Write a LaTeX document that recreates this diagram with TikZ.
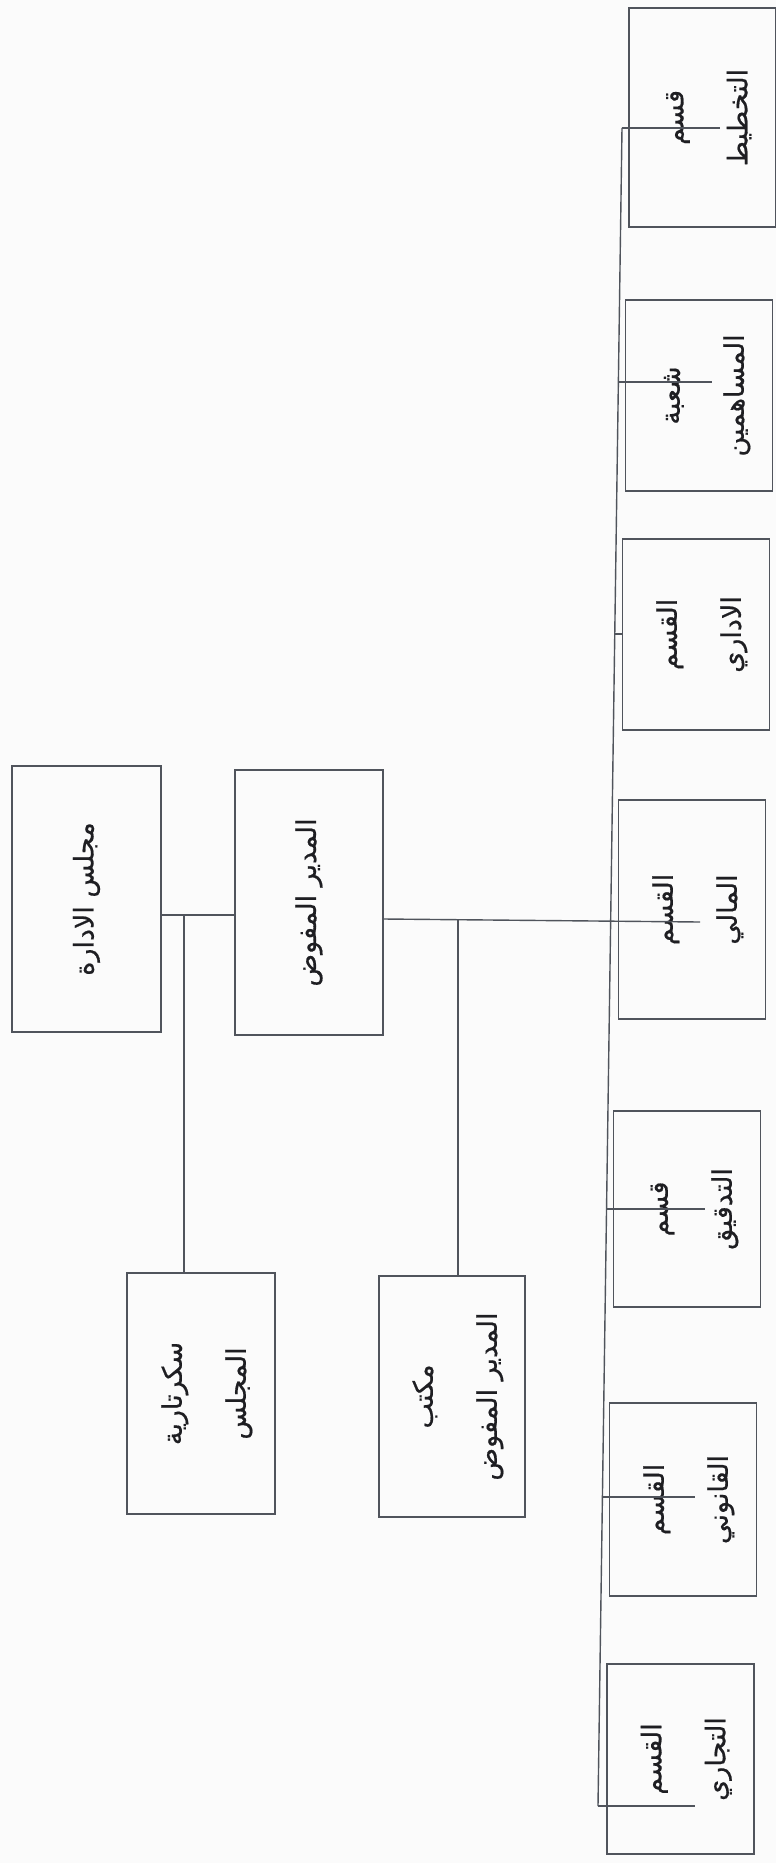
\documentclass[tikz,border=0pt]{standalone}
\usepackage{fontspec}
\usepackage{graphicx}
\TeXXeTstate=1
\newfontfamily\arabicfont[Script=Arabic,FakeBold=0.6]{DejaVu Sans}
\usetikzlibrary{calc}
\definecolor{linec}{RGB}{80,84,92}
\definecolor{textc}{RGB}{30,30,34}
\definecolor{paper}{RGB}{251,251,251}
\newcommand{\onel}[1]{\rotatebox{90}{\arabicfont\fontsize{13.5}{32}\selectfont #1}}
\newcommand{\twol}[2]{\rotatebox{90}{\arabicfont\fontsize{13.5}{32}\selectfont\begin{tabular}{@{}c@{}}#1\\#2\end{tabular}}}
\begin{document}
\begin{tikzpicture}[x=0.5pt,y=-0.5pt,
  box/.style={draw=linec, line width=0.75pt, inner sep=0pt, minimum width=73.5pt, text=textc},
  conn/.style={draw=linec, line width=0.7pt}]
\fill[paper] (0,0) rectangle (776,1863);
\useasboundingbox (0,0) rectangle (776,1863);
% departments column
\node[box, minimum height=109.5pt] (plan)  at (702.5,117.5) {\twol{\beginR قسم\endR}{\beginR التخطيط\endR}};
\node[box, minimum height=95.5pt]  (share) at (699,395.5)  {\twol{\beginR شعبة\endR}{\beginR المساهمين\endR}};
\node[box, minimum height=95.5pt]  (admin) at (696,634.5)  {\twol{\beginR القسم\endR}{\beginR الاداري\endR}};
\node[box, minimum height=109.5pt] (fin)   at (692,909.5)  {\twol{\beginR القسم\endR}{\beginR المالي\endR}};
\node[box, minimum height=98pt]    (audit) at (687,1209)   {\twol{\beginR قسم\endR}{\beginR التدقيق\endR}};
\node[box, minimum height=96.5pt]  (legal) at (683,1499.5) {\twol{\beginR القسم\endR}{\beginR القانوني\endR}};
\node[box, minimum height=95pt]    (trade) at (680.5,1759) {\twol{\beginR القسم\endR}{\beginR التجاري\endR}};
% upper part
\node[box, minimum width=74.5pt, minimum height=133pt]   (board)  at (86.5,899)   {\onel{\beginR مجلس الادارة\endR}};
\node[box, minimum width=74pt, minimum height=132.5pt]   (md)     at (309,902.5)  {\onel{\beginR المدير المفوض\endR}};
\node[box, minimum width=74pt, minimum height=120.5pt]   (sec)    at (201,1393.5) {\twol{\beginR سكرتارية\endR}{\beginR المجلس\endR}};
\node[box, minimum width=73pt, minimum height=120.5pt]   (office) at (452,1396.5) {\twol{\beginR مكتب\endR}{\beginR المدير المفوض\endR}};
% junctions
\coordinate (jb) at (184,915);
\coordinate (jm) at (458,919);
\coordinate (finend) at (700,922);
\coordinate (bt) at (622,128);
\coordinate (bb) at (598,1806);
\coordinate (b2) at (618.4,382);
\coordinate (b3) at (614.8,634);
\coordinate (b5) at (606.5,1209);
\coordinate (b6) at (602.4,1497);
% connectors
\draw[conn] (board.east |- jb) -- (md.west |- jb);
\draw[conn] (jb) -- (jb |- sec.north);
\draw[conn] (md.east |- jm) -- (finend);
\draw[conn] (jm) -- (jm |- office.north);
\draw[conn] (bt) -- (bb);
\draw[conn] (bt) -- ++(98,0);
\draw[conn] (b2) -- ++(94,0);
\draw[conn] (b3) -- (admin.west |- b3);
\draw[conn] (b5) -- ++(98,0);
\draw[conn] (b6) -- ++(93,0);
\draw[conn] (bb) -- ++(97,0);
\end{tikzpicture}
\end{document}
